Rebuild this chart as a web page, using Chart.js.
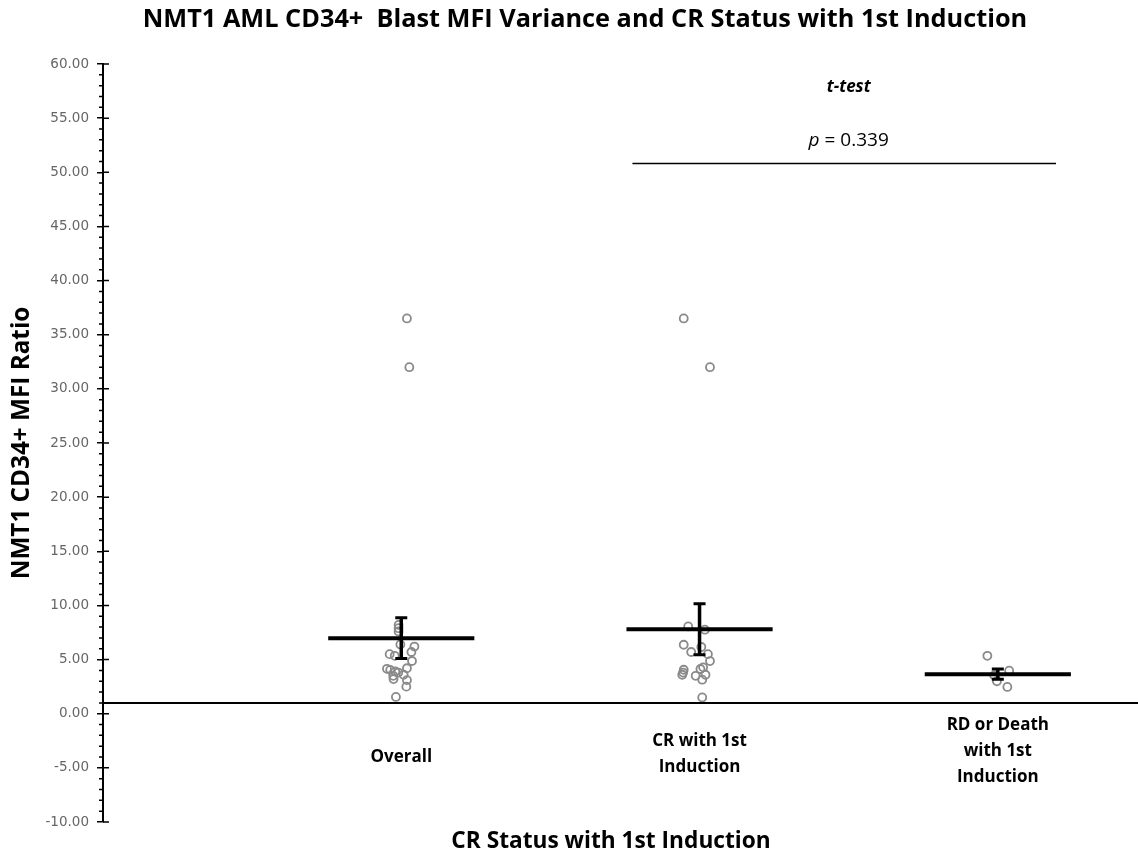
<!DOCTYPE html>
<html>
<head>
<meta charset="utf-8">
<title>NMT1 AML CD34+ Blast MFI Variance</title>
<script src="https://cdn.jsdelivr.net/npm/chart.js@4.4.1/dist/chart.umd.min.js"></script>
<style>
  html, body { margin: 0; padding: 0; background: #fff; overflow: hidden; }
  #wrap { width: 1138px; height: 857px; position: relative; }
  canvas { display: block; }
</style>
</head>
<body>
<div id="wrap"><canvas id="chart"></canvas></div>
<script>
// groups on the x axis (1, 2, 3)
const groupNames = [['Overall'], ['CR with 1st', 'Induction'], ['RD or Death', 'with 1st', 'Induction']];
const groupCentres = [1, 2, 3];
const groupMeans = [6.98, 7.8, 3.65];
const groupSEM = [1.89, 2.35, 0.47];

// individual patients, x is the jittered group position
const overallX = [1.019, 1.027, 0.991, 0.991, 0.991, 0.997, 1.044, 1.034, 0.961, 0.978, 1.036, 1.019, 0.952, 0.963, 0.980, 0.990, 1.008, 0.973, 0.974, 1.019, 1.017, 0.982];
const overallY = [36.5, 32.0, 8.2, 7.9, 7.6, 6.4, 6.2, 5.7, 5.5, 5.35, 4.87, 4.2, 4.15, 4.05, 3.9, 3.8, 3.6, 3.5, 3.2, 3.1, 2.5, 1.55];
const crX = [1.947, 2.035, 1.962, 2.018, 1.947, 2.006, 1.972, 2.028, 2.035, 2.012, 2.003, 1.947, 1.945, 1.942, 1.987, 2.020, 2.009, 2.009];
const crY = [36.5, 32.0, 8.06, 7.76, 6.37, 6.16, 5.7, 5.5, 4.86, 4.28, 4.13, 4.06, 3.8, 3.6, 3.5, 3.6, 3.14, 1.5];
const rdX = [2.965, 3.038, 2.988, 2.997, 3.032];
const rdY = [5.35, 3.97, 3.54, 3.0, 2.47];

const yMin = -10, yMax = 60, yStep = 5;
const xMax = 3.47;
const baseline = 1;      // ratio of 1 = no difference
const pValue = 0.339;
const bracketFrom = 1.775, bracketTo = 3.195, bracketY = 50.8;

const toPoints = (xs, ys) => xs.map((x, i) => ({ x: x, y: ys[i] }));
const halfWidth = 0.245;
const FONT = '"Open Sans"';

const pointStyle = {
    type: 'scatter',
    showLine: false,
    pointRadius: 4,
    pointHoverRadius: 4,
    pointBorderWidth: 1.8,
    pointBorderColor: '#8a8a8a',
    pointBackgroundColor: 'rgba(255,255,255,0)'
};

const datasets = [];
datasets.push({
    type: 'line', data: [{ x: 0, y: baseline }, { x: xMax, y: baseline }],
    borderColor: '#000', borderWidth: 2, pointRadius: 0
});
groupCentres.forEach((c, i) => {
    datasets.push({
        type: 'line',
        data: [{ x: c - halfWidth, y: groupMeans[i] }, { x: c + halfWidth, y: groupMeans[i] }],
        borderColor: '#000', borderWidth: 4, pointRadius: 0
    });
});
datasets.push(Object.assign({ data: toPoints(overallX, overallY) }, pointStyle));
datasets.push(Object.assign({ data: toPoints(crX, crY) }, pointStyle));
datasets.push(Object.assign({ data: toPoints(rdX, rdY) }, pointStyle));
datasets.push({
    type: 'line', data: [{ x: bracketFrom, y: bracketY }, { x: bracketTo, y: bracketY }],
    borderColor: '#000', borderWidth: 1.5, pointRadius: 0
});

// error bars, minor ticks and all the text
const extras = {
    id: 'extras',
    afterDatasetsDraw(chart) {
        const ctx = chart.ctx;
        const xs = chart.scales.x, ys = chart.scales.y;
        ctx.save();
        ctx.strokeStyle = '#000';
        groupCentres.forEach((c, i) => {
            const px = xs.getPixelForValue(c);
            const top = ys.getPixelForValue(groupMeans[i] + groupSEM[i]);
            const bot = ys.getPixelForValue(groupMeans[i] - groupSEM[i]);
            ctx.lineWidth = 3.5;
            ctx.beginPath();
            ctx.moveTo(px, top); ctx.lineTo(px, bot);
            ctx.stroke();
            ctx.lineWidth = 3;
            ctx.beginPath();
            ctx.moveTo(px - 6, top); ctx.lineTo(px + 6, top);
            ctx.moveTo(px - 6, bot); ctx.lineTo(px + 6, bot);
            ctx.stroke();
        });
        ctx.restore();
    },
    afterDraw(chart) {
        const ctx = chart.ctx;
        const xs = chart.scales.x, ys = chart.scales.y;
        const axisX = chart.chartArea.left;
        ctx.save();
        // minor ticks on the left, major ticks poke out to the right
        ctx.strokeStyle = '#000';
        ctx.lineWidth = 1.5;
        ctx.beginPath();
        for (let v = yMin; v <= yMax; v++) {
            const py = ys.getPixelForValue(v);
            if (v % yStep === 0) {
                ctx.moveTo(axisX, py); ctx.lineTo(axisX + 6, py);
            } else {
                ctx.moveTo(axisX - 4, py); ctx.lineTo(axisX, py);
            }
        }
        ctx.stroke();

        ctx.fillStyle = '#000';
        ctx.textAlign = 'center';
        ctx.textBaseline = 'middle';

        // title
        ctx.font = 'bold 25.3px ' + FONT;
        ctx.fillText('NMT1 AML CD34+  Blast MFI Variance and CR Status with 1st Induction', 585, 20);

        // axis titles
        ctx.font = 'bold 22.7px ' + FONT;
        ctx.fillText('CR Status with 1st Induction', 611, 842);
        ctx.save();
        ctx.font = 'bold 24.3px ' + FONT;
        ctx.translate(22, 443);
        ctx.rotate(-Math.PI / 2);
        ctx.fillText('NMT1 CD34+ MFI Ratio', 0, 0);
        ctx.restore();

        // group labels under the baseline
        ctx.font = 'bold 17px ' + FONT;
        const labelMid = [-4.05, -3.72, -3.42];
        groupNames.forEach((lines, i) => {
            const px = xs.getPixelForValue(groupCentres[i]);
            const mid = ys.getPixelForValue(labelMid[i]);
            const lh = 26;
            lines.forEach((t, k) => {
                ctx.fillText(t, px, mid + (k - (lines.length - 1) / 2) * lh);
            });
        });

        // t-test annotation
        const cx = xs.getPixelForValue(2.5);
        ctx.font = 'bold italic 17px ' + FONT;
        ctx.fillText('t-test', cx, ys.getPixelForValue(57.9));
        const py = ys.getPixelForValue(52.9);
        ctx.font = 'italic 19px ' + FONT;
        const pPart = 'p';
        const rest = ' = ' + pValue.toFixed(3);
        const w1 = ctx.measureText(pPart).width;
        ctx.font = '19px ' + FONT;
        const w2 = ctx.measureText(rest).width;
        const start = cx - (w1 + w2) / 2;
        ctx.textAlign = 'left';
        ctx.font = 'italic 19px ' + FONT;
        ctx.fillText(pPart, start, py);
        ctx.font = '19px ' + FONT;
        ctx.fillText(rest, start + w1, py);
        ctx.restore();
    }
};

new Chart(document.getElementById('chart'), {
    data: { datasets: datasets },
    options: {
        responsive: true,
        maintainAspectRatio: false,
        animation: false,
        layout: { autoPadding: false, padding: { top: 64, bottom: 35, left: 0, right: 0 } },
        plugins: { legend: { display: false }, tooltip: { enabled: false }, title: { display: false } },
        scales: {
            x: { type: 'linear', min: 0, max: xMax, display: false },
            y: {
                min: yMin, max: yMax,
                afterFit(scale) { scale.width = 103; },
                ticks: {
                    stepSize: yStep,
                    padding: 8,
                    color: '#666',
                    font: { family: 'DejaVu Sans', size: 13.5 },
                    callback: v => v.toFixed(2)
                },
                grid: { drawOnChartArea: false, drawTicks: true, tickLength: 6, color: '#000', lineWidth: 1.5 },
                border: { display: true, color: '#000', width: 2 }
            }
        }
    },
    plugins: [extras]
});
</script>
</body>
</html>
